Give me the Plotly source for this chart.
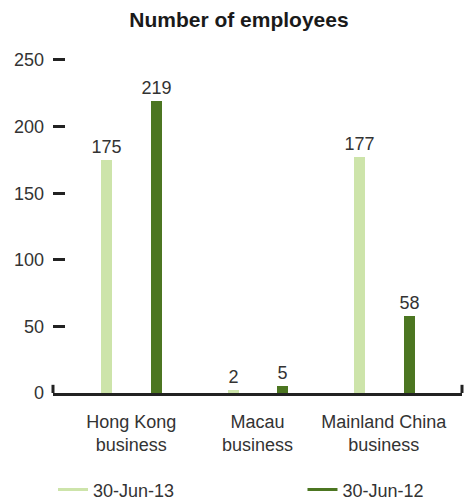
import plotly.graph_objects as go

categories = ["Hong Kong<br>business", "Macau<br>business", "Mainland China<br>business"]
series_names = ["30-Jun-13", "30-Jun-12"]
values_2013 = [175, 2, 177]
values_2012 = [219, 5, 58]
tick_vals = [0, 50, 100, 150, 200, 250]

LIGHT = "#cde4aa"
DARK = "#4c7621"
TXT = "#333333"
FONT = "Liberation Sans, Arial, sans-serif"

xs = list(range(len(categories)))

fig = go.Figure()
for vals, name, color, off, leg in [(values_2013, series_names[0], LIGHT, -0.237, "legend"),
                                     (values_2012, series_names[1], DARK, 0.157, "legend2")]:
    fig.add_trace(go.Bar(
        x=xs, y=vals, name=name, marker_color=color, marker_line_width=0,
        width=0.087, offset=off, text=[str(v) for v in vals],
        textposition="outside", cliponaxis=False, constraintext="none",
        textfont=dict(size=18, color=TXT, family=FONT),
        showlegend=False,
    ))
    fig.add_trace(go.Scatter(
        x=[None], y=[None], mode="lines", name=name,
        line=dict(color=color, width=3), showlegend=True, legend=leg,
    ))

leg_common = dict(orientation="h", yanchor="middle", y=-0.284, xanchor="left",
                  font=dict(size=18, color=TXT), bgcolor="rgba(0,0,0,0)")
fig.update_layout(
    width=464, height=501,
    margin=dict(l=53, r=2, t=52, b=108, autoexpand=False),
    paper_bgcolor="white", plot_bgcolor="white",
    font=dict(family=FONT, size=18, color=TXT),
    title=dict(text="<b>Number of employees</b>", x=0.515, xanchor="center",
               y=0.96, yanchor="middle", font=dict(size=21, color="#1a1a1a")),
    bargap=0, barmode="overlay",
    showlegend=True,
    legend=dict(x=0.0, **leg_common),
    legend2=dict(x=0.61, **leg_common),
)
fig.update_xaxes(
    range=[-0.62, 2.62], tickmode="array", tickvals=xs, ticktext=categories,
    showline=True, linecolor="#222222", linewidth=3, ticks="", showgrid=False,
    zeroline=False, tickfont=dict(size=18, color=TXT), ticklabelstandoff=10,
)
fig.update_yaxes(
    range=[0, 256], tickmode="array", tickvals=tick_vals,
    showline=False, showgrid=False, zeroline=False,
    ticks="inside", ticklen=12, tickwidth=3, tickcolor="#222222",
    tickfont=dict(size=18, color=TXT), ticklabelstandoff=8,
)
for xp in [0, 1]:
    fig.add_shape(type="line", xref="paper", yref="paper", x0=xp, x1=xp,
                  y0=0, y1=0.024, line=dict(color="#222222", width=3))

fig.write_html("out.html")
